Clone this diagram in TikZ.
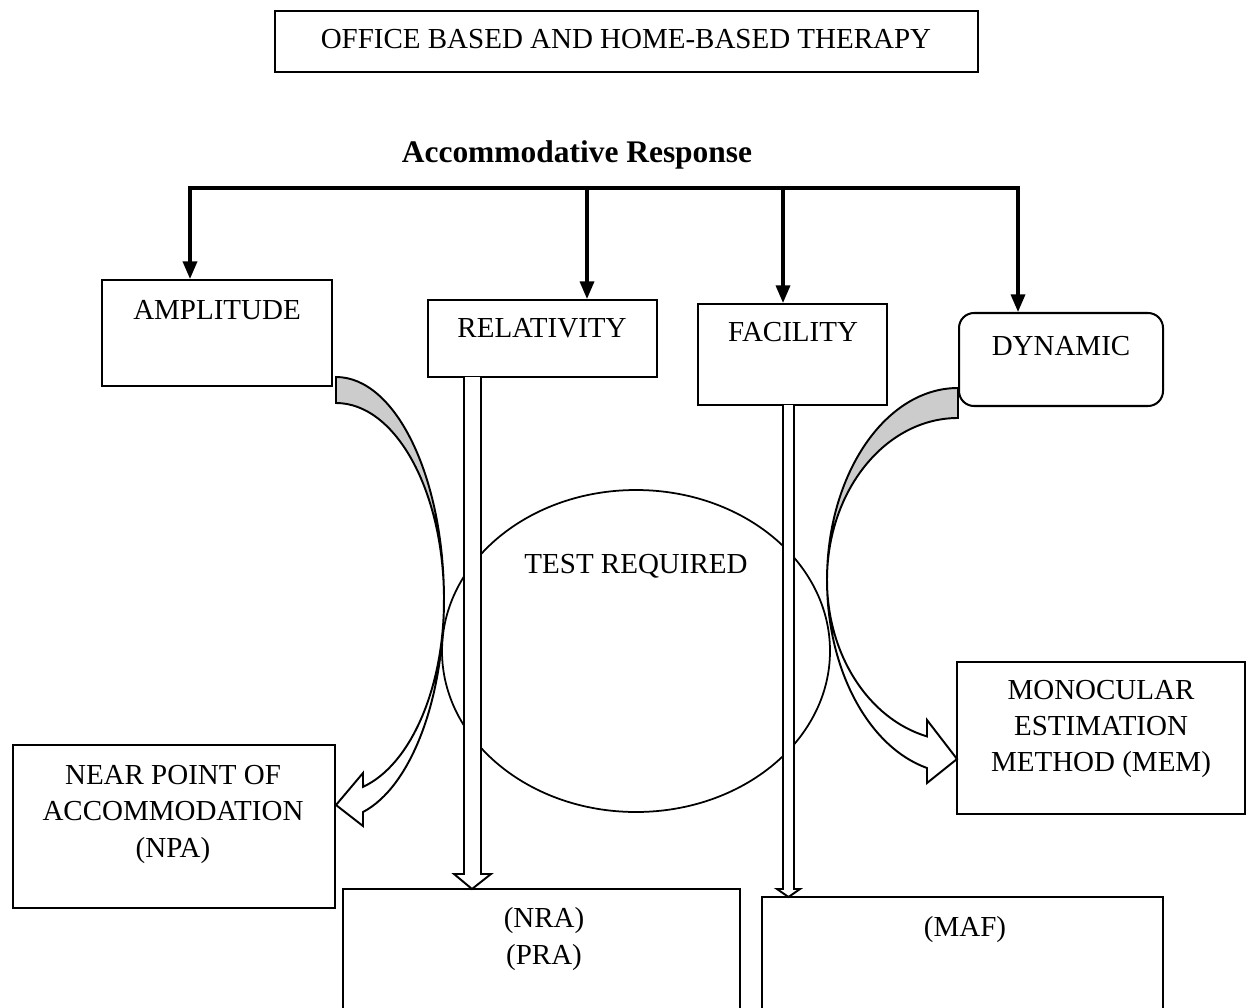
\documentclass[tikz,border=0pt]{standalone}
\usepackage{fontspec}
\setmainfont{Liberation Serif}
\usetikzlibrary{arrows.meta,shapes.geometric,calc}
\begin{document}
\begin{tikzpicture}[x=0.02cm,y=-0.02cm,
  pbox/.style 2 args={draw, line width=1.15pt, inner sep=0pt, minimum width={#1*0.02cm}, minimum height={#2*0.02cm}},
  txt/.style={font=\fontsize{16.5pt}{19.8pt}\selectfont, inner sep=0pt, anchor=base},
  headtxt/.style={font=\fontsize{17.9pt}{21pt}\selectfont\bfseries, inner sep=0pt, anchor=base},
  bar/.style={line width=2.1pt},
  conn/.style={line width=1.8pt, -{Triangle[length=10pt,width=8pt]}},
  blk/.style={draw, line width=1.1pt, fill=white, line join=miter},
  bandline/.style={draw, line width=1.1pt, line join=miter},
  band/.style={draw, line width=1.1pt, fill=black!20, line join=miter}]
\useasboundingbox (0,0) rectangle (1250,1007);
\clip (0,0) rectangle (1250,1007);
\fill[white] (0,0) rectangle (1250,1007);

% title
\node[pbox={703}{61}, line width=1.3pt] (title) at (626.5,41.5) {};
\node[txt] (titletxt) at (626,49) {OFFICE BASED AND HOME-BASED THERAPY};
\node[headtxt] (acc) at (577,162) {Accommodative Response};

% boxes
\node[pbox={230}{106}] (amp) at (217,333) {};
\node[pbox={229}{77}] (rel) at (542.5,338.5) {};
\node[pbox={189}{101}] (fac) at (792.5,354.5) {};
\node[pbox={204}{93}, rounded corners=0.3cm] (dyn) at (1061,359.5) {};
\node[pbox={322}{163}] (npa) at (174,826.5) {};
\node[pbox={288}{152}] (mem) at (1101,738) {};
\node[pbox={397}{151}] (nra) at (541.5,964.5) {};
\node[pbox={401}{143}] (maf) at (962.5,968.5) {};

% ellipse
\node[draw, ellipse, line width=1pt, inner sep=0pt, fill=white, minimum width={388*0.02cm}, minimum height={322*0.02cm}] (test) at (636,651) {};

% top connector
\coordinate (b1) at (190,188);
\coordinate (b2) at (587,188);
\coordinate (b3) at (783,188);
\coordinate (b4) at (1018,188);
\draw[bar] ([xshift=-0.9pt]b1) -- ([xshift=0.9pt]b4);
\draw[conn] (b1) -- (b1 |- amp.north);
\draw[conn] (b2) -- (b2 |- rel.north);
\draw[conn] (b3) -- (b3 |- fac.north);
\draw[conn] (b4) -- (b4 |- dyn.north);

% double-line block arrows
\draw[blk] (464,377) -- (464,874) -- (454,874) -- (472,889) -- (491,874) -- (481,874) -- (481,377);
\draw[blk] (783,405) -- (783,889) -- (777,889) -- (788.5,897) -- (800,889) -- (794,889) -- (794,405);

% left curved arrow (AMPLITUDE -> NPA)
\draw[band] (336,377) arc[start angle=-90,end angle=0,x radius=108,y radius=223]
  arc[start angle=0,end angle=-90,x radius=108,y radius=197] -- cycle;
\draw[bandline] (444,600) arc[start angle=0,end angle=75.5,x radius=108,y radius=193]
  -- (363,773) -- (336,805) -- (363,826) -- (363,812)
  arc[start angle=75.5,end angle=0,x radius=108,y radius=219];

% right curved arrow (DYNAMIC -> MEM)
\draw[band] (958,388) arc[start angle=-90,end angle=-180,x radius=131,y radius=192]
  arc[start angle=180,end angle=270,x radius=131,y radius=162] -- cycle;
\draw[bandline] (827,580) arc[start angle=180,end angle=103.7,x radius=131,y radius=161]
  -- (927,720) -- (957,759) -- (927,783) -- (927,768)
  arc[start angle=103.7,end angle=180,x radius=131,y radius=193];

% texts
\node[txt] (amptxt) at (217,319) {AMPLITUDE};
\node[txt] (reltxt) at (542,337) {RELATIVITY};
\node[txt] (factxt) at (793,341) {FACILITY};
\node[txt] (dyntxt) at (1061,355) {DYNAMIC};
\node[txt] (testtxt) at (636,573) {TEST REQUIRED};
\node[txt] (npa1) at (173,784) {NEAR POINT OF};
\node[txt] (npa2) at (173,820) {ACCOMMODATION};
\node[txt] (npa3) at (173,857) {(NPA)};
\node[txt] (mem1) at (1101,699) {MONOCULAR};
\node[txt] (mem2) at (1101,735) {ESTIMATION};
\node[txt] (mem3) at (1101,771) {METHOD (MEM)};
\node[txt] (nra1) at (544,927) {(NRA)};
\node[txt] (nra2) at (544,964) {(PRA)};
\node[txt] (maftxt) at (965,936) {(MAF)};
\end{tikzpicture}
\end{document}
